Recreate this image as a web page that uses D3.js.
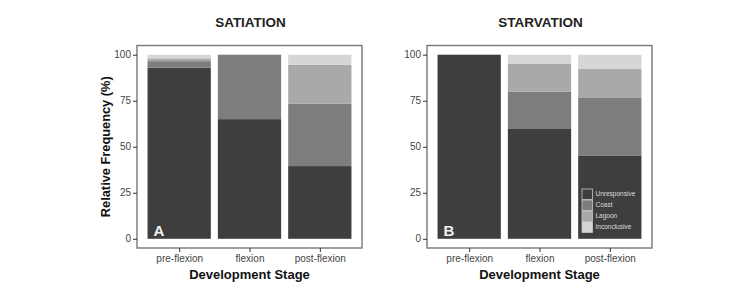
<!DOCTYPE html>
<html>
<head>
<meta charset="utf-8" />
<title>Satiation vs starvation</title>
<script src="https://cdnjs.cloudflare.com/ajax/libs/d3/7.8.5/d3.min.js"></script>
<style>
  body { margin: 0; padding: 0; background: #fff; }
  svg { display: block; font-family: "Liberation Sans", Arial, sans-serif; }
</style>
</head>
<body>
<svg id="chart" width="755" height="287"></svg>
<script>
// stages on the x axis
var stages = ["pre-flexion", "flexion", "post-flexion"];
// response categories (stack order bottom -> top)
var responses = ["Unresponsive", "Coast", "Lagoon", "Inconclusive"];
var responseColors = ["#3e3e3e", "#7d7d7d", "#a9a9a9", "#d6d6d6"];
var yTicks = [0, 25, 50, 75, 100];

// percentages per stage, one array per response
var satiationUnresponsive = [93, 65, 39.5];
var satiationCoast        = [3.5, 35, 34];
var satiationLagoon       = [1.5, 0, 21];
var satiationInconclusive = [2, 0, 5.5];

var starvationUnresponsive = [100, 60, 45.3];
var starvationCoast        = [0, 20, 31.2];
var starvationLagoon       = [0, 15, 16];
var starvationInconclusive = [0, 5, 7.5];

function buildRows(u, c, l, i) {
  return stages.map(function(s, k) {
    return {stage: s, Unresponsive: u[k], Coast: c[k], Lagoon: l[k], Inconclusive: i[k]};
  });
}

var panels = [
  {title: "SATIATION", tag: "A", left: 137, legend: false,
   rows: buildRows(satiationUnresponsive, satiationCoast, satiationLagoon, satiationInconclusive)},
  {title: "STARVATION", tag: "B", left: 427, legend: true,
   rows: buildRows(starvationUnresponsive, starvationCoast, starvationLagoon, starvationInconclusive)}
];

var svg = d3.select("#chart");
var plotTop = 45.5, plotBottom = 248, pw = 225;

var color = d3.scaleOrdinal().domain(responses).range(responseColors);
var stack = d3.stack().keys(responses);

// y: ggplot style 5% expansion
var y = d3.scaleLinear().domain([-5, 105]).range([plotBottom, plotTop]);

panels.forEach(function(p) {
  var g = svg.append("g");
  // x: discrete with 0.6 expansion each side, bar width 0.9
  var x = d3.scaleLinear().domain([0.4, 3.6]).range([p.left, p.left + pw]);
  var unit = x(2) - x(1);

  var series = stack(p.rows);
  g.selectAll("g.layer").data(series).enter().append("g")
    .attr("fill", function(d) { return color(d.key); })
    .selectAll("rect").data(function(d) { return d; }).enter().append("rect")
    .attr("x", function(d, i) { return x(i + 1) - 0.45 * unit; })
    .attr("width", 0.9 * unit)
    .attr("y", function(d) { return y(d[1]); })
    .attr("height", function(d) { return Math.max(0, y(d[0]) - y(d[1])); });

  // panel border
  g.append("rect")
    .attr("x", p.left).attr("y", plotTop).attr("width", pw).attr("height", plotBottom - plotTop)
    .attr("fill", "none").attr("stroke", "#777").attr("stroke-width", 1.4);

  // y axis
  var ya = g.append("g").attr("transform", "translate(" + p.left + ",0)")
    .call(d3.axisLeft(y).tickValues(yTicks).tickSize(4).tickPadding(2));
  ya.select(".domain").remove();
  ya.selectAll("line").attr("stroke", "#333");
  ya.selectAll("text").attr("fill", "#444").style("font-size", "10px");

  // x axis
  var xa = g.append("g").attr("transform", "translate(0," + plotBottom + ")")
    .call(d3.axisBottom(x).tickValues([1, 2, 3]).tickFormat(function(d) { return stages[d - 1]; })
      .tickSize(4).tickPadding(3));
  xa.select(".domain").remove();
  xa.selectAll("line").attr("stroke", "#333");
  xa.selectAll("text").attr("fill", "#444").style("font-size", "10px");

  // titles
  g.append("text").attr("x", p.left + pw / 2 + 1).attr("y", 26.5)
    .attr("text-anchor", "middle").style("font-size", "13.5px").style("font-weight", "bold")
    .attr("fill", "#222").text(p.title);
  g.append("text").attr("x", p.left + pw / 2).attr("y", 279)
    .attr("text-anchor", "middle").style("font-size", "13px").style("font-weight", "bold")
    .attr("fill", "#111").text("Development Stage");

  // panel tag
  g.append("text").attr("x", x(1) - 0.45 * unit + 6).attr("y", 236)
    .style("font-size", "15px").style("font-weight", "bold").attr("fill", "#f2f2f2").text(p.tag);

  if (p.legend) {
    var lx = 582, ly = 189, ks = 10.5;
    var lg = g.append("g");
    responses.forEach(function(r, i) {
      lg.append("rect").attr("x", lx).attr("y", ly + i * (ks + 0.5)).attr("width", ks).attr("height", ks)
        .attr("fill", color(r)).attr("stroke", "#c8c8c8").attr("stroke-width", 0.8);
      lg.append("text").attr("x", lx + ks + 3).attr("y", ly + i * (ks + 0.5) + ks / 2 + 2.2)
        .style("font-size", "6.5px").attr("fill", "#dcdcdc").text(r);
    });
  }
});

// y title (shared, left panel)
svg.append("text")
  .attr("transform", "translate(110," + ((plotTop + plotBottom) / 2) + ") rotate(-90)")
  .attr("text-anchor", "middle").style("font-size", "12.8px").style("font-weight", "bold")
  .attr("fill", "#111").text("Relative Frequency (%)");
</script>
</body>
</html>
